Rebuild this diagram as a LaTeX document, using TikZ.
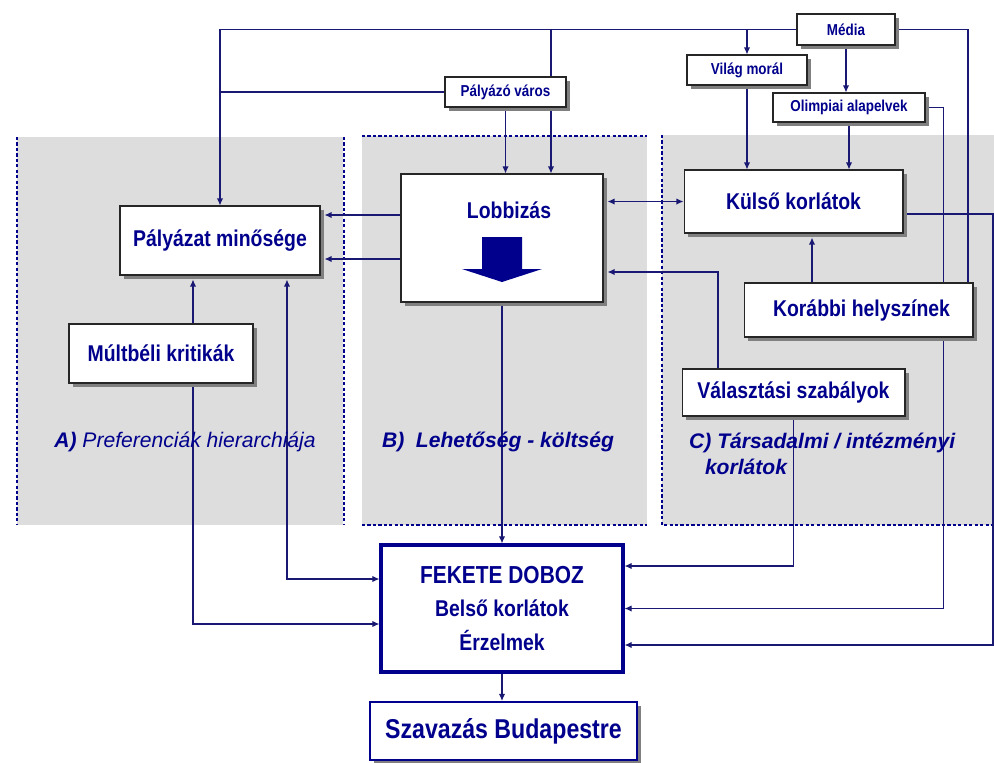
\documentclass[tikz,border=0pt]{standalone}
\usepackage{fontspec}
\setmainfont[FakeStretch=0.85]{Liberation Sans}
\newfontfamily\labelfont{Liberation Sans}
\usepackage{xcolor}
\usetikzlibrary{arrows.meta, shadows, positioning}
\definecolor{inkblue}{RGB}{0,0,140}
\definecolor{wireblue}{RGB}{25,25,115}
\definecolor{panelgray}{RGB}{221,221,221}
\pgfdeclarelayer{panels}
\pgfdeclarelayer{wires}
\pgfsetlayers{panels,wires,main}

\begin{document}
\begin{tikzpicture}[x=0.02cm, y=-0.02cm, >={Latex[length=4pt,width=3.6pt]},
        every node/.style={text=inkblue},
        box/.style={draw=black!85, line width=0.6pt, fill=white, inner sep=0pt,
            drop shadow={shadow xshift=0.08cm, shadow yshift=-0.08cm, fill=black!50, opacity=1}},
        smallbox/.style={box, font=\fontsize{9}{10}\selectfont\bfseries},
        bigbox/.style={box, font=\fontsize{13}{15}\selectfont\bfseries},
        wire/.style={draw=wireblue, line width=0.65pt},
        into/.style={shorten >=0.08cm},
        rim/.style={draw=inkblue, line width=1pt, dash pattern=on 1.8pt off 1.3pt},
        grouplabel/.style={font=\labelfont\fontsize{12}{15}\selectfont\itshape}]
    \useasboundingbox (0,0) rectangle (994,762);

    % grey areas
    \begin{pgfonlayer}{panels}
        \fill[panelgray] (17,137) rectangle (343,525);
        \fill[panelgray] (362,136) rectangle (647,525);
        \fill[panelgray] (662,135) rectangle (994,525);
        \draw[rim] (17,137) -- (17,525);
        \draw[rim] (344,137) -- (344,525);
        \draw[rim] (362,136) -- (647,136);
        \draw[rim] (362,525) -- (647,525);
        \draw[rim] (662,135) -- (662,525) -- (994,525);
    \end{pgfonlayer}

    % boxes
    \node[smallbox, minimum width=1.96cm, minimum height=0.62cm] (media) at (846,29.5) {Média};
    \node[smallbox, minimum width=2.4cm, minimum height=0.6cm] (vilag) at (747,70) {Világ morál};
    \node[smallbox, minimum width=2.42cm, minimum height=0.6cm] (varos) at (505.5,92) {Pályázó város};
    \node[smallbox, minimum width=3.04cm, minimum height=0.58cm] (olimp) at (849,107.5) {Olimpiai alapelvek};
    \node[bigbox, minimum width=4cm, minimum height=1.38cm] (minoseg) at (220,240.5) {Pályázat minősége};
    \node[bigbox, minimum width=4.04cm, minimum height=2.56cm] (lobbi) at (502,238) {};
    \node[bigbox, minimum width=4.38cm, minimum height=1.26cm] (kulso) at (793.5,201.5) {Külső korlátok};
    \node[bigbox, minimum width=4.58cm, minimum height=1.08cm] (korabbi) at (858.5,310) {\hspace{0.12cm}Korábbi helyszínek};
    \node[bigbox, minimum width=4.46cm, minimum height=0.94cm] (valaszt) at (793.5,392.5) {Választási szabályok\hspace{0.25cm}};
    \node[bigbox, minimum width=3.68cm, minimum height=1.18cm] (multbeli) at (161,353.5) {Múltbéli kritikák};
    \node[draw=inkblue, line width=1.8pt, fill=white, align=center, minimum width=4.84cm, minimum height=2.54cm,
        font=\fontsize{13}{16}\selectfont\bfseries] (fekete) at (502,608.5)
        {{\fontsize{14}{16}\selectfont FEKETE DOBOZ}\\[3pt] Belső korlátok\\[3pt] Érzelmek};
    \node[box, draw=inkblue, line width=1.2pt, minimum width=5.34cm, minimum height=1.16cm,
        font=\fontsize{15.5}{18}\selectfont\bfseries] (szavaz) at (503.5,731) {Szavazás Budapestre};

    \node[font=\fontsize{13}{15}\selectfont\bfseries] (lobbilab) at ([shift={(7,-28)}]lobbi.center) {Lobbizás};
    \fill[inkblue] (lobbi.center) ++(-20,-1) -- ++(40,0) -- ++(0,32) -- ++(20,0) -- ++(-40,13)
        -- ++(-40,-13) -- ++(20,0) -- cycle;

    % group labels
    \node[grouplabel] (labA) at (185,442) {\textbf{A)} Preferenciák hierarchiája};
    \node[grouplabel, font=\labelfont\fontsize{12}{15}\selectfont\bfseries\itshape] (labB) at (498,442)
        {B)\ \ Lehetőség - költség};
    \node[grouplabel, font=\labelfont\fontsize{12}{15}\selectfont\bfseries\itshape, align=left, anchor=west] (labC)
        at (683,454) {C) Társadalmi / intézményi\\ \hspace*{0.75em}korlátok};

    % connection points
    \coordinate (lobin) at ([xshift=0.98cm]lobbi.north);
    \coordinate (korin) at ([xshift=2.19cm]korabbi.north);
    \coordinate (korup) at ([xshift=-0.93cm]korabbi.north);
    \coordinate (valup) at ([xshift=-1.51cm]valaszt.north);
    \coordinate (la) at ([yshift=0.46cm]lobbi.west);
    \coordinate (lb) at ([yshift=-0.42cm]lobbi.west);
    \coordinate (lobr) at ([yshift=-0.68cm]lobbi.east);
    \coordinate (kulr) at ([yshift=-0.25cm]kulso.east);
    \coordinate (fkr1) at ([yshift=0.85cm]fekete.east);
    \coordinate (fkr3) at ([yshift=-0.73cm]fekete.east);
    \coordinate (fkl1) at ([yshift=0.59cm]fekete.west);
    \coordinate (fkl2) at ([yshift=-0.31cm]fekete.west);
    \coordinate (mkx) at ([xshift=0.64cm]multbeli.north);
    \coordinate (mky) at ([xshift=0.64cm]multbeli.south);
    \coordinate (msx) at ([xshift=1.34cm]minoseg.south);
    \coordinate (rimpt) at (993,0);

    % connectors
    \begin{pgfonlayer}{wires}
        \draw[wire, ->] (media.west) -| (minoseg.north);
        \draw[wire] (varos.west) -- (varos.west -| minoseg.north);
        \draw[wire, ->] (media.west -| lobin) -- (lobin);
        \draw[wire, ->] (varos.south) -- (varos.south |- lobbi.north);
        \draw[wire, ->] (media.west -| vilag.north) -- (vilag.north);
        \draw[wire, ->] (media.south) -- (media.south |- olimp.north);
        \draw[wire] (media.east) -| (korin);
        \draw[wire, ->] (olimp.east) -- ++(18,0) |- (fekete.east);
        \draw[wire, ->] (vilag.south) -- (vilag.south |- kulso.north);
        \draw[wire, ->] (olimp.south) -- (olimp.south |- kulso.north);
        \draw[wire, <->, shorten <=0.08cm] (lobbi.east |- kulso.west) -- (kulso.west);
        \draw[wire, ->, into] (valup) |- (lobr);
        \draw[wire, ->, into] (la) -- (la -| minoseg.east);
        \draw[wire, ->, into] (lb) -- (lb -| minoseg.east);
        \draw[wire, ->, into] (korup) -- (korup |- kulso.south);
        \draw[wire, ->] (kulr) -| (rimpt |- fkr3) -- (fkr3);
        \draw[wire, ->] (lobbi.south) -- (fekete.north);
        \draw[wire, ->] (valaszt.south) |- (fkr1);
        \draw[wire, ->, into] (mkx) -- (mkx |- minoseg.south);
        \draw[wire, ->] (mky) |- (fkl2);
        \draw[wire, <->, into] (fkl1) -| (msx);
        \draw[wire, ->] (fekete.south) -- (fekete.south |- szavaz.north);
    \end{pgfonlayer}
\end{tikzpicture}
\end{document}
